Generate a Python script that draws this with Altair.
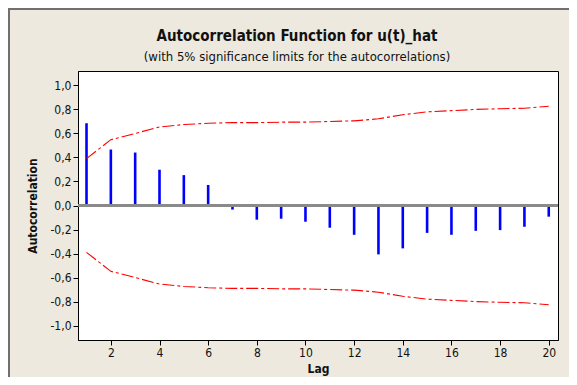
import altair as alt
import pandas as pd

lags = list(range(1, 21))
acf = [0.685, 0.466, 0.441, 0.298, 0.253, 0.171, -0.034, -0.118, -0.110, -0.135,
       -0.185, -0.244, -0.407, -0.357, -0.228, -0.244, -0.211, -0.205, -0.177, -0.093]
upper = [0.39, 0.548, 0.60, 0.654, 0.674, 0.685, 0.69, 0.69, 0.694, 0.694,
         0.70, 0.705, 0.722, 0.756, 0.78, 0.79, 0.80, 0.806, 0.81, 0.826]
lower = [-0.39, -0.548, -0.60, -0.654, -0.674, -0.685, -0.69, -0.69, -0.694, -0.694,
         -0.70, -0.705, -0.722, -0.756, -0.78, -0.79, -0.80, -0.806, -0.81, -0.826]
x_ticks = [2, 4, 6, 8, 10, 12, 14, 16, 18, 20]
y_ticks = [-1.0, -0.8, -0.6, -0.4, -0.2, 0.0, 0.2, 0.4, 0.6, 0.8, 1.0]

df = pd.DataFrame({"lag": lags, "acf": acf, "upper": upper, "lower": lower})

FONT = "DejaVu Sans Condensed, Liberation Sans, sans-serif"
lab = "replace(replace(format(datum.value, '.1f'), '.', ','), '\u2212', '-')"

xs = alt.Scale(domain=[0.65, 20.38], nice=False, zero=False)
ys = alt.Scale(domain=[-1.12, 1.12], nice=False)

xaxis = alt.Axis(values=x_ticks, title="Lag", grid=False, tickSize=5,
                 labelFontSize=12, titleFontSize=12, titleFontWeight="bold",
                 labelPadding=2, titlePadding=5, domainColor="black",
                 tickColor="black", labelColor="#111", titleColor="#111",
                 labelFont=FONT, titleFont=FONT, labelOverlap=False)
yaxis = alt.Axis(values=y_ticks, labelExpr=lab, title="Autocorrelation", grid=False,
                 tickSize=5, labelFontSize=12, titleFontSize=12,
                 titleFontWeight="bold", labelPadding=2, titlePadding=10,
                 domainColor="black", tickColor="black", labelColor="#111",
                 titleColor="#111", labelFont=FONT, titleFont=FONT,
                 labelOverlap=False, labelBound=False)

base = alt.Chart(df)

bars = base.mark_rule(color="#0000FF", strokeWidth=2.6).encode(
    x=alt.X("lag:Q", scale=xs, axis=xaxis),
    y=alt.Y("acf:Q", scale=ys, axis=yaxis),
    y2=alt.datum(0),
)

zero = base.mark_rule(color="#8a8a8a", strokeWidth=2).encode(
    y=alt.YDatum(0, scale=ys, axis=yaxis))

up = base.mark_line(color="#FF0000", strokeWidth=1.1, strokeDash=[12, 3, 3, 3]).encode(
    x=alt.X("lag:Q", scale=xs, axis=xaxis), y=alt.Y("upper:Q", scale=ys, axis=yaxis))
lo = base.mark_line(color="#FF0000", strokeWidth=1.1, strokeDash=[12, 3, 3, 3]).encode(
    x=alt.X("lag:Q", scale=xs, axis=xaxis), y=alt.Y("lower:Q", scale=ys, axis=yaxis))

frame_top = base.mark_rule(color="#707070", strokeWidth=2, clip=False).encode(
    x=alt.value(-70), x2=alt.value(491), y=alt.value(-62))
frame_left = base.mark_rule(color="#707070", strokeWidth=2, clip=False).encode(
    x=alt.value(-69), y=alt.value(-63), y2=alt.value(306))

chart = alt.layer(bars, zero, up, lo, frame_top, frame_left).properties(
    width=480, height=269,
    padding={"left": 70, "top": 63, "right": 11, "bottom": 37},
    autosize=alt.AutoSizeParams(type="none"),
    background="#EDE9DF",
    title=alt.Title(
        "Autocorrelation Function for u(t)_hat",
        subtitle="(with 5% significance limits for the autocorrelations)",
        anchor="middle", frame="group", dx=-21, offset=-57,
        fontSize=15, fontWeight="bold", subtitleFontSize=13,
        font=FONT, subtitleFont=FONT, color="#111", subtitleColor="#111",
        subtitlePadding=7,
    ),
).configure_view(fill="white", stroke="black", strokeWidth=1
).configure_axis(labelOverlap=False)

chart.save("out.html", embed_options={"renderer": "svg", "actions": False})
